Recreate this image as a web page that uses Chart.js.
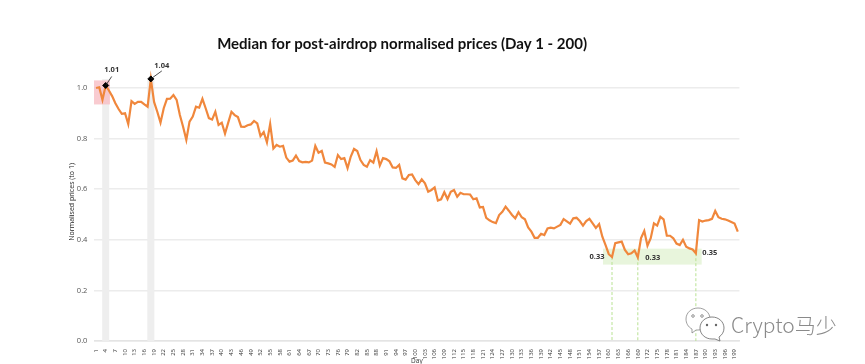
<!DOCTYPE html>
<html>
<head>
<meta charset="utf-8">
<title>Median for post-airdrop normalised prices</title>
<script src="https://cdn.jsdelivr.net/npm/chart.js@4"></script>
<style>
  html, body { margin: 0; padding: 0; background: #fff; overflow: hidden; }
  #wrap { position: relative; width: 865px; height: 364px; }
  #chart-median { filter: blur(0.4px); }
  #mark { position: absolute; left: 684px; top: 306px; }
  #markText { position: absolute; left: 731px; top: 310px; font: 300 21px "Noto Sans CJK SC", "Noto Sans", sans-serif; color: #8a8a8a; line-height: 28px; white-space: nowrap; }
</style>
</head>
<body>
<div id="wrap">
  <canvas id="chart-median" width="865" height="364"></canvas>
  <svg id="mark" width="44" height="38" viewBox="0 0 44 38">
    <path d="M14 2c7 0 12 5 12 11s-5 11-12 11l-2 0-4 3 0-4C4 21 2 17 2 13 2 7 7 2 14 2z" fill="#fff" stroke="#777" stroke-width=".7"/>
    <circle cx="9" cy="10" r="1.3" fill="none" stroke="#666" stroke-width=".7"/><circle cx="18" cy="10" r="1.3" fill="none" stroke="#666" stroke-width=".7"/>
    <path d="M28 11c7 0 12 5 12 11 0 4-2 7-5 9l1 4-5-2-3 0c-7 0-12-5-12-11s5-11 12-11z" fill="#fff" stroke="#666" stroke-width=".8"/>
    <circle cx="23" cy="19" r="1.2" fill="#666"/><circle cx="32" cy="19" r="1.2" fill="#666"/>
  </svg>
  <div id="markText">Crypto马少</div>
</div>
<script>
var days = [];
for (var d = 1; d <= 200; d++) days.push(d);

// one value per day
var medianPrice = [
  1.00, 1.003, 0.953, 1.01, 0.99, 0.968, 0.94, 0.917, 0.898, 0.90,
  0.857, 0.948, 0.937, 0.945, 0.945, 0.935, 0.926, 1.036, 0.945, 0.906,
  0.863, 0.92, 0.957, 0.958, 0.972, 0.953, 0.893, 0.847, 0.795, 0.867,
  0.887, 0.926, 0.922, 0.957, 0.92, 0.881, 0.875, 0.906, 0.854, 0.863,
  0.82, 0.863, 0.906, 0.893, 0.885, 0.847, 0.846, 0.853, 0.856, 0.87,
  0.86, 0.81, 0.826, 0.785, 0.858, 0.761, 0.775, 0.768, 0.771, 0.725,
  0.709, 0.713, 0.733, 0.711, 0.706, 0.708, 0.706, 0.713, 0.771, 0.744,
  0.751, 0.705, 0.702, 0.698, 0.688, 0.735, 0.719, 0.723, 0.683, 0.729,
  0.759, 0.751, 0.715, 0.696, 0.689, 0.715, 0.705, 0.75, 0.694, 0.723,
  0.719, 0.71, 0.686, 0.684, 0.696, 0.643, 0.638, 0.656, 0.658, 0.636,
  0.62, 0.639, 0.623, 0.59, 0.597, 0.607, 0.555, 0.56, 0.588, 0.561,
  0.59, 0.597, 0.57, 0.586, 0.58, 0.58, 0.579, 0.56, 0.564, 0.528,
  0.53, 0.487, 0.477, 0.47, 0.466, 0.498, 0.511, 0.531, 0.515, 0.498,
  0.485, 0.509, 0.489, 0.481, 0.449, 0.432, 0.408, 0.408, 0.424, 0.419,
  0.445, 0.448, 0.445, 0.452, 0.459, 0.482, 0.473, 0.464, 0.485, 0.487,
  0.474, 0.456, 0.474, 0.483, 0.465, 0.447, 0.462, 0.412, 0.379, 0.343,
  0.332, 0.387, 0.39, 0.393, 0.36, 0.343, 0.347, 0.358, 0.331, 0.407,
  0.435, 0.377, 0.406, 0.465, 0.456, 0.491, 0.481, 0.416, 0.416, 0.406,
  0.385, 0.379, 0.40, 0.373, 0.366, 0.362, 0.347, 0.478, 0.472, 0.476,
  0.478, 0.483, 0.514, 0.489, 0.483, 0.481, 0.476, 0.47, 0.464, 0.432
];

var peakDays = [4, 18];
var peakLabels = ['1.01', '1.04'];
var lowDays = [161, 169, 187];
var lowLabels = ['0.33', '0.33', '0.35'];

var peakPoints = medianPrice.map(function (v, i) {
  return peakDays.indexOf(days[i]) >= 0 ? v : null;
});

// bands, guides and callouts, placed through the chart's scales
var overlays = {
  id: 'overlays',
  beforeDatasetsDraw: function (chart) {
    var ctx = chart.ctx, x = chart.scales.x, y = chart.scales.y;
    var dayX = function (day) { return x.getPixelForValue(day - 1); };
    ctx.save();
    ctx.fillStyle = '#eeeeee';
    peakDays.forEach(function (day) {
      ctx.fillRect(dayX(day) - 3.5, y.getPixelForValue(1.035), 7, y.getPixelForValue(0) - y.getPixelForValue(1.035));
    });
    ctx.fillStyle = 'rgba(248, 190, 196, 0.8)';
    ctx.fillRect(94, y.getPixelForValue(1.03), 16, y.getPixelForValue(0.935) - y.getPixelForValue(1.03));
    ctx.fillStyle = '#e8f5dc';
    ctx.fillRect(dayX(158.2), y.getPixelForValue(0.365), dayX(188.8) - dayX(158.2), y.getPixelForValue(0.302) - y.getPixelForValue(0.365));
    ctx.strokeStyle = '#b9e293';
    ctx.lineWidth = 1;
    ctx.setLineDash([3, 2]);
    lowDays.forEach(function (day) {
      ctx.beginPath();
      ctx.moveTo(dayX(day), y.getPixelForValue(medianPrice[day - 1]));
      ctx.lineTo(dayX(day), y.getPixelForValue(0));
      ctx.stroke();
    });
    ctx.restore();
  },
  afterDatasetsDraw: function (chart) {
    var ctx = chart.ctx, x = chart.scales.x, y = chart.scales.y;
    var dayX = function (day) { return x.getPixelForValue(day - 1); };
    ctx.save();
    ctx.strokeStyle = '#222';
    ctx.lineWidth = 0.8;
    ctx.fillStyle = '#333';
    ctx.font = 'bold 7.5px "Open Sans", sans-serif';
    ctx.textAlign = 'center';
    ctx.textBaseline = 'middle';
    var leader = [[6, -9], [11, -8]];
    var peakText = [[6, -16], [11, -13]];
    peakDays.forEach(function (day, i) {
      var px = dayX(day), py = y.getPixelForValue(medianPrice[day - 1]);
      ctx.beginPath();
      ctx.moveTo(px, py);
      ctx.lineTo(px + leader[i][0], py + leader[i][1]);
      ctx.stroke();
      ctx.fillText(peakLabels[i], px + peakText[i][0], py + peakText[i][1]);
    });
    var lowText = [[-15, 0], [15, 1], [14, 0]];
    lowDays.forEach(function (day, i) {
      ctx.fillText(lowLabels[i], dayX(day) + lowText[i][0], y.getPixelForValue(medianPrice[day - 1]) + lowText[i][1]);
    });
    ctx.restore();
  }
};

new Chart(document.getElementById('chart-median'), {
  type: 'line',
  data: {
    labels: days,
    datasets: [{
      label: 'Peaks',
      data: peakPoints,
      showLine: false,
      pointStyle: 'rectRot',
      pointRadius: 3,
      pointBackgroundColor: '#000',
      pointBorderColor: '#000',
      order: 0
    }, {
      label: 'Median normalised price',
      data: medianPrice,
      borderColor: '#f0873c',
      borderWidth: 2.2,
      pointRadius: 0,
      tension: 0,
      fill: false,
      order: 1
    }]
  },
  options: {
    responsive: false,
    animation: false,
    layout: { padding: { left: 64.8, right: 125.6, top: 0, bottom: 0 } },
    plugins: {
      legend: { display: false },
      tooltip: { enabled: false },
      title: {
        display: true,
        text: 'Median for post-airdrop normalised prices (Day 1 - 200)',
        color: '#111',
        font: { family: 'Lato', size: 15, weight: 'bold', lineHeight: 1.2 },
        padding: { top: 35, bottom: 9.7 }
      }
    },
    scales: {
      x: {
        offset: true,
        afterFit: function (scale) { scale.height = 23; },
        grid: { display: false },
        border: { color: '#e4e4e4', width: 1.5 },
        title: {
          display: true,
          text: 'Day',
          color: '#333',
          font: { family: 'Open Sans', size: 6.5, lineHeight: 1 },
          padding: { top: -2, bottom: 0 }
        },
        ticks: {
          autoSkip: false,
          minRotation: 90,
          maxRotation: 90,
          padding: 0,
          color: '#333',
          font: { family: 'Open Sans', size: 6 },
          callback: function (value, index) {
            return index % 3 === 0 ? days[index] : '';
          }
        }
      },
      y: {
        min: 0,
        max: 1.1,
        afterFit: function (scale) { scale.width = 29.6; },
        // the axis headroom above 1.0 carries no tick or gridline
        afterBuildTicks: function (scale) {
          scale.ticks = scale.ticks.filter(function (t) { return t.value <= 1; });
        },
        grid: { color: '#ececec', lineWidth: 1.5, drawTicks: false },
        border: { display: false },
        title: {
          display: true,
          text: 'Normalised prices (to 1)',
          color: '#222',
          font: { family: 'Open Sans', size: 7, lineHeight: 1 },
          padding: { top: 3.7, bottom: 0 }
        },
        ticks: {
          stepSize: 0.2,
          padding: 7,
          color: '#555',
          font: { family: 'Open Sans', size: 7.5 },
          callback: function (value) { return value.toFixed(1); }
        }
      }
    }
  },
  plugins: [overlays]
});
</script>
</body>
</html>
